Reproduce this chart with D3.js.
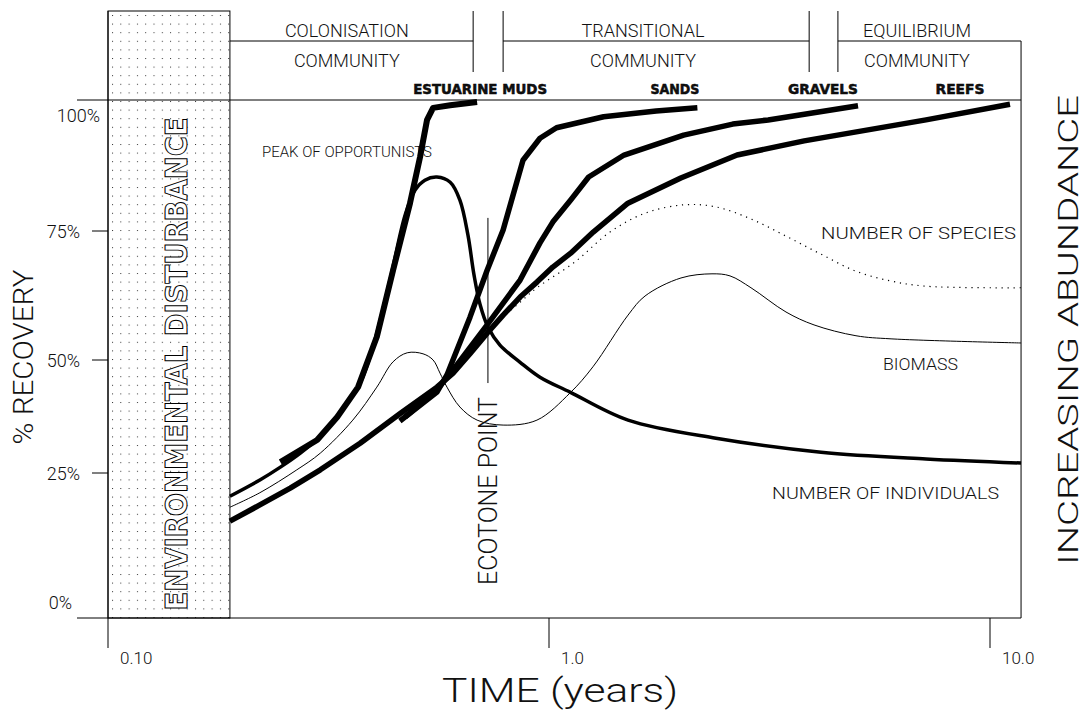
<!DOCTYPE html>
<html><head><meta charset="utf-8">
<script src="https://cdn.jsdelivr.net/npm/d3@7"></script>
<style>
html,body{margin:0;padding:0;background:#fff;}
svg{display:block;}
text{font-family:Roboto,"DejaVu Sans",sans-serif;font-weight:300;fill:#111;}
</style></head><body>
<svg id="chart" width="1091" height="712"></svg>
<script>
// ---------- data ----------
const yTicks = [25, 50, 75];
const yTickLabels = ["25%", "50%", "75%"];
const yEndValues = [0, 100];
const yEndLabels = ["0%", "100%"];
const xTicks = [0.1, 1, 10];
const xTickLabels = ["0.10", "1.0", "10.0"];
const timeMin = 0.1, timeMax = 11.76;
const disturbanceEnd = 0.189;
const phaseNames = ["COLONISATION", "TRANSITIONAL", "EQUILIBRIUM"];
const phaseStarts = [0.189, 0.787, 4.52];
const phaseEnds = [0.673, 3.89, 11.76];
const phaseLabelTimes = [0.348, 1.634, 6.83];
const substrateNames = ["ESTUARINE MUDS", "SANDS", "GRAVELS", "REEFS"];
const substrateLabelTimes = [0.698, 1.93, 4.18, 8.55];
const ecotoneTime = 0.727;
const ecotoneRange = [44.9, 77.5];

const mudsT = [0.246,0.298,0.331,0.369,0.407,0.443,0.484,0.510,0.529,0.546,0.597,0.687];
const mudsV = [27.4,32.3,37.4,44.0,54.5,67.4,80.3,89.1,96.2,98.5,99.0,99.6];
const sandsT = [0.459,0.557,0.587,0.662,0.724,0.787,0.873,0.954,1.04,1.33,1.75,2.17];
const sandsV = [36.5,42.9,46.7,58.3,67.4,75.2,88.5,92.7,94.7,96.8,97.9,98.5];
const gravelsT = [0.472,0.557,0.606,0.724,0.860,0.954,1.02,1.12,1.23,1.48,2.02,2.61,3.14,5.02];
const gravelsV = [37.4,43.4,47.8,56.8,65.5,72.7,76.7,80.9,85.3,89.5,93.3,95.4,96.2,98.9];
const reefsT = [0.189,0.221,0.259,0.303,0.373,0.459,0.557,0.606,0.662,0.724,0.787,0.860,0.939,1.02,1.12,1.26,1.51,1.99,2.67,3.79,7.16,11.1];
const reefsV = [16.7,19.5,22.4,25.7,31.6,38.1,44.0,47.1,51.2,55.2,58.7,62.2,65.1,68.0,70.7,74.8,80.3,85.1,89.5,92.2,96.2,99.2];
const speciesT = [0.189,0.259,0.373,0.557,0.724,0.787,0.860,0.939,1.145,1.375,1.651,2.024,2.391,2.871,3.447,4.139,4.967,5.965,7.160,11.76];
const speciesV = [16.7,22.4,31.6,43.8,55.0,58.3,61.2,64.0,69.0,74.8,78.4,80.0,79.6,77.3,74.0,70.5,67.2,65.3,64.3,64.0];
const biomassT = [0.189,0.221,0.268,0.303,0.359,0.407,0.443,0.477,0.518,0.546,0.566,0.587,0.628,0.687,0.787,0.939,1.116,1.258,1.511,1.651,1.992,2.342,2.573,2.871,3.447,3.990,4.967,5.965,11.76];
const biomassV = [19.1,21.6,25.7,29.4,36.7,44.0,49.6,51.4,51.2,50.0,47.1,44.0,39.6,36.7,35.6,36.7,42.7,48.5,58.7,62.4,65.9,66.7,66.3,64.0,59.3,56.8,54.7,54.1,53.3];
const individualsT = [0.189,0.221,0.246,0.273,0.303,0.336,0.373,0.403,0.436,0.472,0.497,0.523,0.557,0.597,0.628,0.655,0.676,0.698,0.727,0.774,0.860,0.954,1.116,1.511,2.391,4.139,7.160,11.76];
const individualsV = [21.0,23.8,26.3,29.4,33.2,38.3,44.9,53.9,65.5,78.1,82.8,84.7,85.3,84.3,80.9,74.2,66.5,60.7,56.4,52.9,49.5,46.2,42.9,36.7,32.7,29.6,28.1,27.2];

// ---------- layout ----------
const svg = d3.select("#chart");
const x = d3.scaleLog().domain([0.1, 10]).range([108, 990]);
const y = d3.scaleLinear().domain([0, 25, 50, 75, 100]).range([618, 473, 360, 231, 100]);
const headerTop = 11, headerLine = 41, dividerBottom = 72, leftExt = 77;
const ink = "#000";

// dotted pattern
const defs = svg.append("defs");
const pat = defs.append("pattern").attr("id","dots").attr("patternUnits","userSpaceOnUse")
  .attr("width", 8.3).attr("height", 8.6).attr("x", x(timeMin)+4).attr("y", headerTop+4);
pat.append("rect").attr("width",1).attr("height",1).attr("fill","#333");

// disturbance box
svg.append("rect").attr("x", x(timeMin)).attr("y", headerTop)
  .attr("width", x(disturbanceEnd)-x(timeMin)).attr("height", y(0)-headerTop)
  .attr("fill","url(#dots)").attr("stroke", ink).attr("stroke-width",1);

const line = (x1,y1,x2,y2,w) => svg.append("line").attr("x1",x1).attr("y1",y1).attr("x2",x2).attr("y2",y2)
  .attr("stroke",ink).attr("stroke-width",w||1);

// frame
line(leftExt, y(100), x(timeMax), y(100));
line(leftExt, y(0), x(timeMax), y(0));
line(x(timeMin), headerTop, x(timeMin), y(0)+30);
line(x(timeMax), headerLine, x(timeMax), y(0));

// header phases
phaseNames.forEach((n,i)=>{
  line(x(phaseStarts[i]), headerLine, x(phaseEnds[i]), headerLine);
  if (i>0) line(x(phaseStarts[i]), headerTop, x(phaseStarts[i]), dividerBottom);
  if (i<phaseNames.length-1) line(x(phaseEnds[i]), headerTop, x(phaseEnds[i]), dividerBottom);
  svg.append("text").attr("x", x(phaseLabelTimes[i])).attr("y", 37).attr("text-anchor","middle")
    .attr("font-size",18).text(n);
  svg.append("text").attr("x", x(phaseLabelTimes[i])).attr("y", 67).attr("text-anchor","middle")
    .attr("font-size",18).text("COMMUNITY");
});
const subW = [134, 49, 70, 49];
substrateNames.forEach((n,i)=>{
  svg.append("text").attr("x", x(substrateLabelTimes[i]) - subW[i]/2).attr("y", 94)
    .attr("font-size",14).style("font-weight","bold")
    .style("font-family","'DejaVu Sans',sans-serif")
    .attr("stroke","#000").attr("stroke-width",0.5)
    .attr("textLength", subW[i]).attr("lengthAdjust","spacingAndGlyphs").text(n);
});

// y ticks
yTicks.forEach((v,i)=>{
  line(92, y(v), x(timeMin), y(v));
  svg.append("text").attr("x", 80).attr("y", y(v)+6.5).attr("text-anchor","end")
    .attr("font-size",18).text(yTickLabels[i]);
});
svg.append("text").attr("x", 100).attr("y", y(yEndValues[1])+22).attr("text-anchor","end").attr("font-size",18).text(yEndLabels[1]);
svg.append("text").attr("x", 72).attr("y", y(yEndValues[0])-9).attr("text-anchor","end").attr("font-size",18).text(yEndLabels[0]);

// x ticks
xTicks.forEach((t,i)=>{
  if (i>0) line(x(t), y(0), x(t), y(0)+30);
  svg.append("text").attr("x", x(t)+12).attr("y", 664).attr("font-size",17).text(xTickLabels[i]);
});

function txt(s, attrs){
  const t = svg.append("text").text(s);
  Object.entries(attrs).forEach(([k,v])=>t.attr(k,v));
  return t;
}
txt("TIME  (years)", {x:560, y:702, "text-anchor":"middle", "font-size":34, textLength:236, lengthAdjust:"spacingAndGlyphs"});
txt("% RECOVERY", {transform:"translate(33,357) rotate(-90)", "text-anchor":"middle", "font-size":28, textLength:175, lengthAdjust:"spacingAndGlyphs"});
txt("INCREASING  ABUNDANCE", {transform:"translate(1078,330) rotate(-90)", "text-anchor":"middle", "font-size":28, textLength:470, lengthAdjust:"spacingAndGlyphs"});
txt("PEAK  OF  OPPORTUNISTS", {x:262, y:157, "font-size":14, textLength:170, lengthAdjust:"spacingAndGlyphs"});
txt("NUMBER  OF  SPECIES", {x:821, y:239, "font-size":17, textLength:195, lengthAdjust:"spacingAndGlyphs"});
txt("BIOMASS", {x:883, y:370, "font-size":17, textLength:75, lengthAdjust:"spacingAndGlyphs"});
txt("NUMBER  OF  INDIVIDUALS", {x:772, y:499, "font-size":17, textLength:227, lengthAdjust:"spacingAndGlyphs"});

// curves
function draw(T, V, w, curve, dash){
  const data = T.map((t,i)=>[t, V[i]]);
  const p = svg.append("path").datum(data)
    .attr("d", d3.line().x(d=>x(d[0])).y(d=>y(d[1])).curve(curve))
    .attr("fill","none").attr("stroke",ink).attr("stroke-width",w)
    .attr("stroke-linejoin","round").attr("stroke-linecap","butt");
  if (dash) p.attr("stroke-dasharray", dash);
  return p;
}
draw(speciesT, speciesV, 1.2, d3.curveCatmullRom, "1.2,4.8");
draw(biomassT, biomassV, 1, d3.curveCatmullRom);
draw(individualsT, individualsV, 3.5, d3.curveCatmullRom);
draw(reefsT, reefsV, 5.5, d3.curveLinear);
draw(gravelsT, gravelsV, 5.5, d3.curveLinear);
draw(sandsT, sandsV, 5.5, d3.curveLinear);
draw(mudsT, mudsV, 6, d3.curveLinear);

// ecotone
line(x(ecotoneTime), y(ecotoneRange[1]), x(ecotoneTime), y(ecotoneRange[0]));
txt("ECOTONE  POINT", {transform:`translate(${x(ecotoneTime)+9},491) rotate(-90)`, "text-anchor":"middle", "font-size":25, textLength:188, lengthAdjust:"spacingAndGlyphs"});

// environmental disturbance (outlined)
txt("ENVIRONMENTAL DISTURBANCE", {transform:"translate(187,364) rotate(-90)", "text-anchor":"middle", "font-size":30, textLength:493, lengthAdjust:"spacingAndGlyphs"})
  .style("font-family","'DejaVu Sans',sans-serif").style("font-weight","bold")
  .style("fill","#fff").attr("stroke",ink).attr("stroke-width",1);
</script>
</body></html>
